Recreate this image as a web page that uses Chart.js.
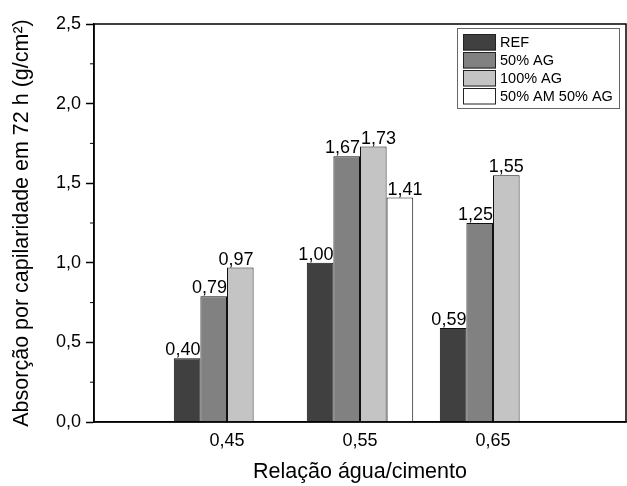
<!DOCTYPE html>
<html lang="pt">
<head>
<meta charset="utf-8">
<title>Absorção por capilaridade</title>
<script src="https://cdn.jsdelivr.net/npm/chart.js@4"></script>
<style>
  html,body{margin:0;padding:0;background:#fff;}
  canvas{display:block;}
</style>
</head>
<body>
<canvas id="chart" width="627" height="486"></canvas>
<script>
// relação a/c e absorção (g/cm²) aos 72 h
const categories = ["0,45", "0,55", "0,65"];
const seriesNames = ["REF", "50% AG", "100% AG", "50% AM 50% AG"];
const refVals   = [0.40, 1.00, 0.59];
const ag50Vals  = [0.79, 1.67, 1.25];
const ag100Vals = [0.97, 1.73, 1.55];
const amAgVals  = [null, 1.41, null];
const yTicks = [0, 0.5, 1.0, 1.5, 2.0, 2.5];

const FONT = "'Liberation Sans', Arial, sans-serif";
const fills = ["#404040", "#818181", "#c4c4c4", "#ffffff"];

// uma posição vazia em cada ponta do eixo
const pad = v => [null, ...v, null];
const labels = ["", ...categories, ""];

// alinhamento dos rótulos de valor [série][categoria]
const labelAlign = [
  ["right", "right", "right"],
  ["right", "right", "right"],
  ["right", "left",  "center"],
  ["left",  "left",  "left"]
];
const fmt = v => v.toFixed(2).replace(".", ",");

// moldura do gráfico (topo e direita)
const frame = {
  id: "frame",
  afterDraw(chart){
    const {ctx, chartArea:a} = chart;
    ctx.save();
    ctx.strokeStyle = "#000"; ctx.lineWidth = 1.5;
    ctx.strokeRect(a.left, a.top, a.right - a.left, a.bottom - a.top);
    ctx.restore();
  }
};

// traços secundários no eixo y
const minorTicks = {
  id: "minorTicks",
  afterDraw(chart){
    const y = chart.scales.y, ctx = chart.ctx;
    ctx.save();
    ctx.strokeStyle = "#000"; ctx.lineWidth = 1;
    for (let i = 0; i < yTicks.length - 1; i++){
      const py = y.getPixelForValue((yTicks[i] + yTicks[i+1]) / 2);
      ctx.beginPath(); ctx.moveTo(y.right - 4, py); ctx.lineTo(y.right, py); ctx.stroke();
    }
    ctx.restore();
  }
};

// valores em cima das barras
const valueLabels = {
  id: "valueLabels",
  afterDatasetsDraw(chart){
    const ctx = chart.ctx;
    ctx.save();
    ctx.font = "18px " + FONT;
    ctx.fillStyle = "#000";
    ctx.textBaseline = "alphabetic";
    chart.data.datasets.forEach((ds, di) => {
      chart.getDatasetMeta(di).data.forEach((bar, i) => {
        const v = ds.data[i];
        if (v == null) return;
        const al = labelAlign[di][i - 1];
        const half = bar.width / 2;
        let x = bar.x;
        if (al === "right") x = bar.x + half;
        if (al === "left")  x = bar.x - half + 1;
        ctx.textAlign = al;
        ctx.fillText(fmt(v), x, bar.y - 3);
      });
    });
    ctx.restore();
  }
};

// legenda dentro da área do gráfico
const boxLegend = {
  id: "boxLegend",
  afterDraw(chart){
    const {ctx, chartArea:a} = chart;
    const w = 162, h = 80, x0 = a.right - 7 - w, y0 = a.top + 4;
    ctx.save();
    ctx.fillStyle = "#fff"; ctx.fillRect(x0, y0, w, h);
    ctx.strokeStyle = "#666"; ctx.lineWidth = 1;
    ctx.strokeRect(x0 + 0.5, y0 + 0.5, w, h);
    ctx.font = "14.5px " + FONT;
    ctx.textBaseline = "middle"; ctx.textAlign = "left";
    chart.data.datasets.forEach((ds, i) => {
      const ry = y0 + 6 + i * 18;
      ctx.fillStyle = ds.backgroundColor;
      ctx.fillRect(x0 + 6, ry, 33, 16.5);
      ctx.strokeStyle = "#222"; ctx.lineWidth = 1;
      ctx.strokeRect(x0 + 6.5, ry + 0.5, 32, 15.5);
      ctx.fillStyle = "#000";
      ctx.fillText(ds.label, x0 + 43, ry + 9);
    });
    ctx.restore();
  }
};

const allVals = [refVals, ag50Vals, ag100Vals, amAgVals];
new Chart(document.getElementById("chart"), {
  type: "bar",
  data: {
    labels,
    datasets: allVals.map((vals, i) => ({
      label: seriesNames[i],
      data: pad(vals),
      backgroundColor: fills[i],
      borderColor: "#111",
      borderWidth: 1,
      categoryPercentage: 0.8,
      barPercentage: 1.0
    }))
  },
  options: {
    responsive: false,
    animation: false,
    layout: { padding: { top: 24, right: 1, left: 0, bottom: 0 } },
    plugins: { legend: { display: false }, tooltip: { enabled: false } },
    scales: {
      x: {
        type: "category",
        offset: false,
        grid: { display: false, drawTicks: false },
        border: { color: "#000", width: 1.5 },
        ticks: { color: "#000", font: { size: 18, family: FONT }, padding: 8, autoSkip: false, maxRotation: 0 },
        title: { display: true, text: "Relação água/cimento", color: "#000",
                 font: { size: 21.5, family: FONT }, padding: { top: 0, bottom: 1 } },
        afterFit(s){ s.height = 64; s.paddingLeft = 0; s.paddingRight = 0; }
      },
      y: {
        min: 0, max: 2.5,
        afterBuildTicks(s){ s.ticks = yTicks.map(v => ({ value: v })); },
        grid: { drawOnChartArea: false, drawTicks: true, tickLength: 8, tickColor: "#000", tickWidth: 1.5 },
        border: { color: "#000", width: 1.5 },
        ticks: { color: "#000", font: { size: 18, family: FONT }, padding: 5,
                 callback: v => v.toFixed(1).replace(".", ",") },
        title: { display: true, text: "Absorção por capilaridade em 72 h (g/cm²)", color: "#000",
                 font: { size: 21.5, family: FONT }, padding: { top: 9, bottom: 0 } },
        afterFit(s){ s.width = 94; s.paddingTop = 0; s.paddingBottom = 0; }
      }
    }
  },
  plugins: [frame, minorTicks, valueLabels, boxLegend]
});
</script>
</body>
</html>
